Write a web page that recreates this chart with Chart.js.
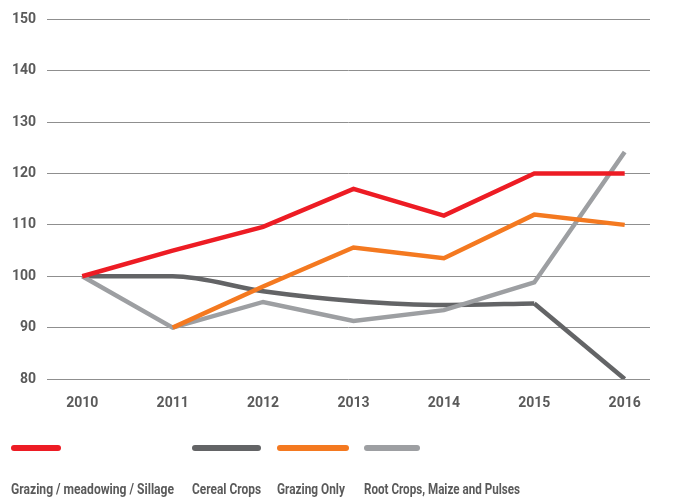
<!DOCTYPE html>
<html>
<head>
<meta charset="utf-8">
<script src="https://cdn.jsdelivr.net/npm/chart.js@4.4.1/dist/chart.umd.min.js"></script>
<style>
  html, body { margin: 0; padding: 0; background: #fff; }
  #wrap { position: relative; width: 674px; height: 497px; }
  #c { position: absolute; left: 0; top: 0; }
  .leg { position: absolute; top: 445px; font-family: Roboto, "Liberation Sans", sans-serif; font-weight: bold; font-size: 14px; color: #5a5a5a; white-space: nowrap; }
  .leg .mk { height: 5.5px; border-radius: 3px; }
  .leg .tx { position: absolute; top: 36px; left: 0; transform-origin: 0 50%; }
</style>
</head>
<body>
<div id="wrap">
  <canvas id="c" width="674" height="497"></canvas>
  <div id="legend"></div>
</div>
<script>
// ---- data ----
const years = [2010, 2011, 2012, 2013, 2014, 2015, 2016];
const seriesNames = ["Grazing / meadowing / Sillage", "Cereal Crops", "Grazing Only", "Root Crops, Maize and Pulses"];
const grazingMeadowing = [100, 105, 109.6, 117, 111.8, 120, 120];
const cerealCrops      = [100, 100, 97.1, 95.2, 94.4, 94.7, 80];
const grazingOnly      = [null, 90, 98, 105.6, 103.5, 112, 110];
const rootCrops        = [100, 90, 95, 91.3, 93.4, 98.8, 124.2];
const yTicks = [80, 90, 100, 110, 120, 130, 140, 150];

// ---- styles ----
const colors = ["#ED1C24", "#636466", "#F47920", "#9D9FA2"];
const legendLeft = [11, 192, 277, 364];
const legendMarkW = [50, 69, 72, 56];
const legendTextW = [163, 69, 68, 156];

function lineDs(label, vals, color, order, smooth, fromIdx, toIdx) {
  const pts = [];
  years.forEach((yr, k) => {
    if (k >= fromIdx && k <= toIdx) pts.push({ x: yr, y: vals[k] });
  });
  return {
    label, data: pts, borderColor: color, backgroundColor: color,
    borderWidth: 4.5, pointRadius: 0, order,
    cubicInterpolationMode: smooth ? 'monotone' : 'default', tension: 0,
    borderCapStyle: 'butt', borderJoinStyle: 'miter'
  };
}

const datasets = [
  lineDs(seriesNames[0], grazingMeadowing, colors[0], 0, false, 0, 6),
  // cereal: smooth part up to 2015, straight drop after
  lineDs(seriesNames[1], cerealCrops, colors[1], 3, true, 0, 5),
  lineDs(seriesNames[1], cerealCrops, colors[1], 3, false, 5, 6),
  lineDs(seriesNames[2], grazingOnly, colors[2], 1, false, 1, 6),
  lineDs(seriesNames[3], rootCrops, colors[3], 2, false, 0, 6)
];

const tickFont = { family: "Roboto, 'Liberation Sans', sans-serif", size: 14, weight: 'bold' };

new Chart(document.getElementById('c'), {
  type: 'line',
  data: { datasets },
  options: {
    responsive: false,
    animation: false,
    layout: { padding: { top: 18, right: 24, left: 0, bottom: 78 } },
    plugins: { legend: { display: false }, tooltip: { enabled: false } },
    scales: {
      x: {
        type: 'linear',
        min: 2009.61,
        max: 2016.28,
        afterBuildTicks: s => { s.ticks = years.map(v => ({ value: v })); },
        afterFit: s => { s.height = 40; },
        grid: { display: false, drawTicks: false },
        border: { display: false },
        ticks: { color: '#5a5a5a', font: tickFont, padding: 16, callback: v => String(v), maxRotation: 0 }
      },
      y: {
        min: 80,
        max: 150,
        afterBuildTicks: s => { s.ticks = yTicks.map(v => ({ value: v })); },
        afterFit: s => { s.width = 47; },
        grid: { color: '#8f8f8f', lineWidth: 1, drawTicks: false },
        border: { display: false },
        ticks: { color: '#5a5a5a', font: tickFont, padding: 11 }
      }
    }
  }
});

// ---- HTML legend ----
const legend = document.getElementById('legend');
seriesNames.forEach((name, i) => {
  const item = document.createElement('div');
  item.className = 'leg';
  item.style.left = legendLeft[i] + 'px';
  const mk = document.createElement('div');
  mk.className = 'mk';
  mk.style.width = legendMarkW[i] + 'px';
  mk.style.background = colors[i];
  const tx = document.createElement('div');
  tx.className = 'tx';
  tx.textContent = name;
  item.appendChild(mk);
  item.appendChild(tx);
  legend.appendChild(item);
  const w = tx.getBoundingClientRect().width;
  if (w > 0) tx.style.transform = 'scaleX(' + (legendTextW[i] / w).toFixed(3) + ')';
});
</script>
</body>
</html>
